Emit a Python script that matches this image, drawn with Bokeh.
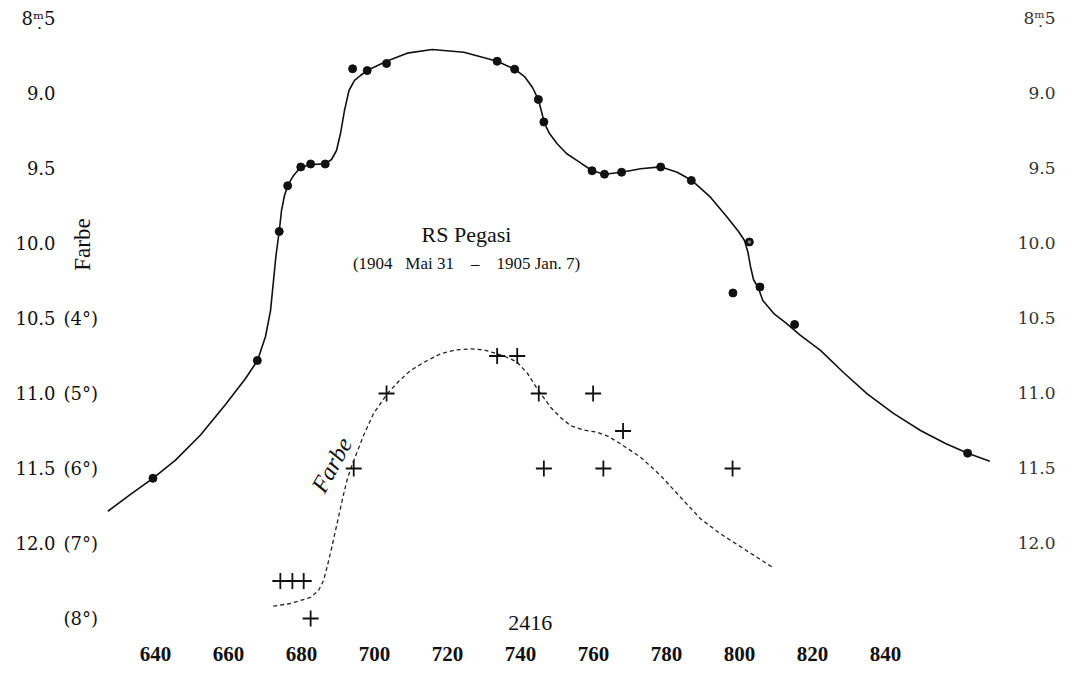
import numpy as np
from bokeh.plotting import figure
from bokeh.models import Range1d, FixedTicker
from bokeh.core.properties import value
from bokeh.embed import file_html
from bokeh.resources import INLINE

# ---- data (Julian day 2416xxx, magnitude, colour in degrees) ----
# observed magnitudes (dots)
obs_day = [639.3, 667.9, 673.9, 676.2, 679.8, 682.5, 686.5, 694.0, 698.0, 703.3,
           733.6, 738.4, 744.9, 746.4, 759.6, 763.0, 767.7, 778.4, 786.8, 798.2,
           802.7, 805.6, 815.1, 862.5]
obs_mag = [11.565, 10.78, 9.92, 9.615, 9.49, 9.47, 9.47, 8.835, 8.847, 8.80,
           8.785, 8.838, 9.04, 9.19, 9.515, 9.538, 9.525, 9.49, 9.58, 10.33,
           9.99, 10.29, 10.54, 11.398]

# drawn light curve
curve_day = [626.93, 633.15, 639.18, 645.48, 652.33, 659.18, 664.66, 667.95, 670.14, 671.51,
             672.33, 673.01, 673.89, 674.52, 675.34, 676.30, 677.81, 679.73, 682.47, 686.49,
             688.22, 689.59, 690.68, 691.78, 693.01, 694.52, 696.16, 698.00, 703.29, 708.96,
             715.81, 724.47, 733.62, 738.44, 741.10, 743.29, 744.93, 745.75, 746.58, 747.95,
             750.05, 752.60, 755.53, 759.64, 763.01, 767.67, 772.88, 778.36, 782.93, 786.85,
             792.05, 796.63, 799.73, 801.37, 802.33, 803.01, 803.84, 805.21, 806.39, 809.40,
             812.60, 816.71, 822.19, 828.49, 834.99, 842.19, 849.59, 856.44, 862.55, 868.58]
curve_mag = [11.785, 11.673, 11.567, 11.444, 11.277, 11.074, 10.900, 10.780, 10.620, 10.447,
             10.247, 10.080, 9.920, 9.780, 9.680, 9.607, 9.547, 9.493, 9.473, 9.469,
             9.440, 9.380, 9.267, 9.113, 8.980, 8.913, 8.880, 8.847, 8.785, 8.731,
             8.707, 8.725, 8.785, 8.838, 8.887, 8.960, 9.042, 9.120, 9.200, 9.267,
             9.335, 9.400, 9.447, 9.515, 9.538, 9.525, 9.502, 9.489, 9.525, 9.578,
             9.691, 9.825, 9.920, 9.980, 10.060, 10.153, 10.240, 10.300, 10.380, 10.467,
             10.527, 10.613, 10.713, 10.860, 11.002, 11.133, 11.247, 11.333, 11.398, 11.451]

# colour estimates (crosses), in degrees
col_day = [674.2, 677.5, 680.6, 682.5, 694.3, 703.3, 733.6, 739.1, 745.0, 746.4,
           759.9, 762.7, 768.1, 798.1]
col_deg = [7.5, 7.5, 7.5, 8.0, 6.0, 5.0, 4.5, 4.5, 5.0, 6.0,
           5.0, 6.0, 5.5, 6.0]

# drawn colour curve (traced, dashed)
colcurve_day = [672.25, 676.99, 682.47, 684.66, 686.03, 687.12, 688.22, 689.32, 690.41, 691.51,
                692.60, 693.70, 695.07, 696.99, 699.73, 703.48, 706.58, 709.86, 713.97, 718.08,
                722.19, 726.30, 730.14, 733.62, 736.44, 739.10, 741.92, 744.58, 746.30, 748.22,
                750.96, 753.70, 757.26, 761.01, 764.11, 767.40, 772.88, 778.36, 783.84, 789.32,
                794.79, 801.18, 809.40]
colcurve_deg = [7.836, 7.800, 7.720, 7.627, 7.493, 7.293, 7.067, 6.827, 6.587, 6.347,
                6.133, 5.973, 5.800, 5.560, 5.267, 5.004, 4.840, 4.693, 4.573, 4.471,
                4.420, 4.404, 4.420, 4.471, 4.520, 4.583, 4.733, 4.937, 5.053, 5.183,
                5.320, 5.427, 5.487, 5.516, 5.573, 5.671, 5.849, 6.093, 6.383, 6.671,
                6.871, 7.071, 7.329]

# tick labels
x_ticks = [640, 660, 680, 700, 720, 740, 760, 780, 800, 820, 840]
mag_ticks = [8.5, 9.0, 9.5, 10.0, 10.5, 11.0, 11.5, 12.0]
mag_labels = ["8\u1d50\u03235", "9.0", "9.5", "10.0", "10.5", "11.0", "11.5", "12.0"]
deg_ticks = [4, 5, 6, 7, 8]
deg_labels = ["(4°)", "(5°)", "(6°)", "(7°)", "(8°)"]

NB = "\u00a0"
title = "RS Pegasi"
subtitle = ("(1904" + NB * 3 + "Mai 31" + NB * 4 + "\u2013" + NB * 4
            + "1905" + NB + "Jan." + NB + "7)")
number = "2416"
farbe = "Farbe"

# ---- layout constants ----
X0, X1 = 597.53, 890.14
Y_TOP, Y_BOT = 8.38, 12.6467
# colour scale: 4 deg <-> 10.5 mag, 1 deg = 0.5 mag
D_TOP = 4 + (Y_TOP - 10.5) * 2
D_BOT = 4 + (Y_BOT - 10.5) * 2

SERIF = "DejaVu Serif"
TIMES = "Liberation Serif"
INK = "#111111"

p = figure(frame_width=1068, frame_height=640, output_backend="svg",
           toolbar_location=None, y_axis_location=None,
           x_range=Range1d(X0, X1), y_range=Range1d(Y_BOT, Y_TOP),
           min_border=0, min_border_bottom=36,
           background_fill_color="white", border_fill_color="white")
p.extra_y_ranges = {"farbe": Range1d(D_BOT, D_TOP)}
p.outline_line_color = None
p.grid.visible = False

ax = p.xaxis[0]
ax.ticker = FixedTicker(ticks=x_ticks)
ax.axis_line_color = None
ax.major_tick_line_color = None
ax.minor_tick_line_color = None
ax.major_label_standoff = 0
ax.major_label_text_font = TIMES
ax.major_label_text_font_style = "bold"
ax.major_label_text_font_size = "21px"
ax.major_label_text_color = INK

# light curve
p.line(curve_day, curve_mag, line_color=INK, line_width=1.6,
       line_join="round")
p.scatter(obs_day, obs_mag, size=8, marker="circle",
          fill_color=INK, line_color=INK)
# the slightly hollow observation near 803
p.scatter([obs_day[20]], [obs_mag[20]], size=3.5, marker="circle",
          fill_color="#888888", line_color=None)

# colour curve
p.line(colcurve_day, colcurve_deg, y_range_name="farbe",
       line_color="#222222", line_width=1.3, line_dash="4 3",
       line_join="round")
p.scatter(col_day, col_deg, y_range_name="farbe", marker="cross",
          size=16, line_color=INK, line_width=1.8)

# left tick labels (magnitude column, right aligned)
p.text(x=[612.6] * len(mag_ticks), y=mag_ticks, text=mag_labels,
       text_font=value(SERIF), text_font_size="18px", text_align="right",
       text_baseline="middle", text_color=INK)
# degree column
p.text(x=[614.8] * len(deg_ticks), y=deg_ticks, text=deg_labels,
       y_range_name="farbe",
       text_font=value(SERIF), text_font_size="18px", text_align="left",
       text_baseline="middle", text_color=INK)
# right tick labels
p.text(x=[886.6] * len(mag_ticks), y=mag_ticks, text=mag_labels,
       text_font=value(SERIF), text_font_size="17px", text_align="right",
       text_baseline="middle", text_color="#333333")

# annotations
p.text(x=[725.2], y=[9.94], text=[title], text_font=value(TIMES),
       text_font_size="22px", text_align="center", text_baseline="middle",
       text_color=INK)
p.text(x=[725.2], y=[10.135], text=[subtitle],
       text_font=value(TIMES), text_font_size="17px", text_align="center",
       text_baseline="middle", text_color=INK)
p.text(x=[620.0], y=[10.007], text=[farbe], angle=np.pi / 2,
       text_font=value(TIMES), text_font_size="23px", text_align="center",
       text_baseline="middle", text_color=INK)
p.text(x=[688.3], y=[11.477], text=[farbe], angle=1.07,
       text_font=value(TIMES), text_font_style="italic",
       text_font_size="24px", text_align="center", text_baseline="middle",
       text_color=INK)
p.text(x=[742.7], y=[12.527], text=[number], text_font=value(TIMES),
       text_font_size="22px", text_align="center", text_baseline="middle",
       text_color=INK)

open("out.html", "w").write(file_html(p, INLINE))
